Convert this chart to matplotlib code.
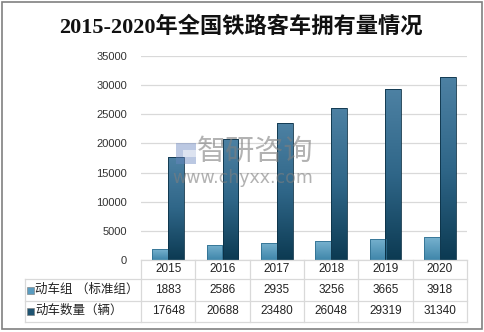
import matplotlib.pyplot as plt
import matplotlib.transforms as mtransforms
from matplotlib.colors import LinearSegmentedColormap
from matplotlib.patches import Rectangle
import numpy as np

plt.rcParams['font.family'] = ['Liberation Sans', 'Noto Sans CJK SC']

years = ['2015', '2016', '2017', '2018', '2019', '2020']
emu_sets = [1883, 2586, 2935, 3256, 3665, 3918]
emu_cars = [17648, 20688, 23480, 26048, 29319, 31340]
series_names = ['动车组 （标准组）', '动车数量（辆）']
title = '2015-2020年全国铁路客车拥有量情况'

W, H = 485, 332
fig = plt.figure(figsize=(W / 100, H / 100), dpi=100)

def fx(x):
    return x / W

def fy(y):
    return 1 - y / H

# plot area in pixels: x 141..467, y 56..260
ax = fig.add_axes([fx(141), fy(260), fx(467 - 141), (260 - 56) / H])
ax.set_xlim(-0.5, len(years) - 0.5)
ax.set_ylim(0, 35000)
ax.set_yticks(np.arange(0, 35001, 5000))
ax.set_xticks([])
ax.tick_params(axis='y', length=0, pad=10, labelsize=8, labelcolor='#333333')
ax.yaxis.grid(True, color='#d9d9d9', linewidth=0.9)
ax.set_axisbelow(True)
for s in ax.spines.values():
    s.set_visible(False)

light_cmap = LinearSegmentedColormap.from_list('light', ['#3f86aa', '#78b2cf'])
dark_cmap = LinearSegmentedColormap.from_list('dark', ['#0c3a52', '#2f6688', '#4d81a3'])
grad = np.linspace(0, 1, 256).reshape(-1, 1)

x = np.arange(len(years))
bw = 0.29

def gradient_bars(xs, vals, cmap, edge):
    bars = ax.bar(xs, vals, width=bw, facecolor='none', edgecolor=edge,
                  linewidth=0.6, zorder=3)
    for b in bars:
        x0, w, h = b.get_x(), b.get_width(), b.get_height()
        im = ax.imshow(grad, extent=[x0, x0 + w, 0, h], origin='lower',
                       aspect='auto', cmap=cmap, zorder=2)
        im.set_clip_path(b)
    return bars

gradient_bars(x - bw / 2, emu_sets, light_cmap, '#2f6f90')
gradient_bars(x + bw / 2, emu_cars, dark_cmap, '#0b3146')
ax.set_xlim(-0.5, len(years) - 0.5)
ax.set_ylim(0, 35000)

# watermark
fig.patches.append(Rectangle((fx(176), fy(164)), fx(20), 21 / H,
                             transform=fig.transFigure, facecolor='#6a86c0',
                             alpha=0.45, edgecolor='none'))
fig.patches.append(Rectangle((fx(183), fy(157)), fx(13), 7 / H,
                             transform=fig.transFigure, facecolor='white',
                             alpha=0.5, edgecolor='none'))
fig.text(fx(255), fy(152), '智研咨询', fontsize=21, color='#7f7f7f', alpha=0.6,
         ha='center', va='center', family=['Noto Sans CJK SC'])
fig.text(fx(243), fy(178), 'www.chyxx.com', fontsize=12.5,
         color='#7f7f7f', alpha=0.6, ha='center', va='center',
         family=['DejaVu Sans'])

# data table under the chart
tr = mtransforms.blended_transform_factory(ax.transData, fig.transFigure)
line_kw = dict(color='#d9d9d9', linewidth=0.9, clip_on=False)
row_y = [260, 279, 300.5, 321.5]
xl, xr = -0.5, len(years) - 0.5

fig.add_artist(plt.Line2D([xl, xr], [fy(row_y[0])] * 2, transform=tr, **line_kw))
for yy in row_y[1:]:
    fig.add_artist(plt.Line2D([fx(25), fx(467)], [fy(yy)] * 2,
                              transform=fig.transFigure, **line_kw))
fig.add_artist(plt.Line2D([fx(25), fx(25)], [fy(row_y[1]), fy(row_y[3])],
                          transform=fig.transFigure, **line_kw))
for i in range(len(years) + 1):
    fig.add_artist(plt.Line2D([i - 0.5, i - 0.5], [fy(row_y[0]), fy(row_y[3])],
                              transform=tr, **line_kw))

for i, yr in enumerate(years):
    fig.text(i, fy(269.5), yr, transform=tr, ha='center', va='center',
             fontsize=8.5, color='#222222')
    fig.text(i, fy(290), str(emu_sets[i]), transform=tr, ha='center',
             va='center', fontsize=8.5, color='#222222')
    fig.text(i, fy(311), str(emu_cars[i]), transform=tr, ha='center',
             va='center', fontsize=8.5, color='#222222')

for name, yc, col in [(series_names[0], 290, '#5a9cc0'),
                      (series_names[1], 311, '#1f5472')]:
    fig.patches.append(Rectangle((fx(27), fy(yc + 3.5)), fx(7), 7 / H,
                                 transform=fig.transFigure, facecolor=col,
                                 edgecolor='#777777', linewidth=0.4))
    fig.text(fx(35), fy(yc), name, ha='left', va='center', fontsize=9,
             color='#222222')

fig.text(fx(241), fy(27), title, ha='center', va='center', fontsize=16,
         fontweight='bold', color='#111111',
         family=['Liberation Serif', 'Noto Sans CJK SC'])

# outer frame
fig.patches.append(Rectangle((fx(2), fy(329)), fx(480), 327 / H,
                             transform=fig.transFigure, facecolor='none',
                             edgecolor='#808080', linewidth=1.2))

fig.savefig('out.png', dpi=100)
